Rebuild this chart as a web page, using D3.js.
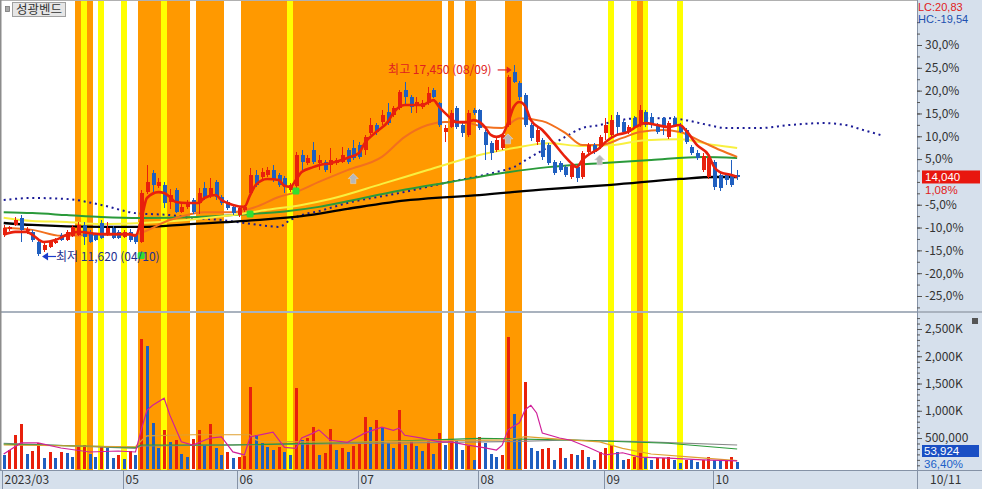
<!DOCTYPE html>
<html><head><meta charset="utf-8">
<script src="https://cdn.jsdelivr.net/npm/d3@7"></script>
<style>
html,body{margin:0;padding:0;background:#fff;overflow:hidden}
svg{display:block}
text{font-family:"Noto Sans CJK KR","Noto Sans",sans-serif}
.num{font-family:"Liberation Sans","Noto Sans",sans-serif}
</style></head><body>
<svg id="chart" width="982" height="489"></svg>
<script>
// ===== DATA =====
const stockName = "성광벤드";
const monthLabels = ["2023/03","05","06","07","08","09","10"];
const monthIdx = [0,21,41,62,83,105,124];
const lastDateLabel = "10/11";
const basePrice = 13890; // 0% reference of the right axis
const pctTicks = [30,25,20,15,10,5,-5,-10,-15,-20,-25];
const volTicks = [500000,1000000,1500000,2000000,2500000];

const open = [12280,12450,12580,12790,12400,12370,12060,11820,11910,12030,
12280,12120,12250,12280,12580,12370,12280,12640,12280,12490,
12370,12210,12370,12270,12060,13580,14160,13770,13800,13280,
13640,12970,13130,13340,13250,13700,13490,13890,13430,13280,
13130,12880,13040,13550,14100,14040,14100,14250,14100,14010,
13640,13760,14710,14470,14860,14470,14500,14400,14470,14500,
14860,14920,15010,14860,15380,15620,15710,16020,15930,16140,
16690,16470,16230,16170,16290,16690,16290,15410,15560,16140,
15620,15320,16080,16080,15410,15070,14860,14920,15620,17230,
16900,16530,15620,15100,15170,15010,14500,14470,14340,14040,
14340,14040,14800,15010,14950,15380,15320,15930,15710,15410,
15830,15620,16020,15870,15620,15830,15260,15830,15620,15470,
14950,14770,14250,14040,14500,14100,14100,14100,14100];
const high = [12580,12560,12820,12880,12520,12420,12100,12030,12120,12180,
12330,12420,12580,12670,12670,12430,12330,12730,12670,12550,
12420,12430,12460,12300,13640,14400,14250,14010,13890,13680,
13700,13220,13340,13400,13700,13890,14010,13950,13490,13340,
13190,13160,13190,14310,14250,14310,14340,14400,14160,14070,
13860,14800,14860,14700,15100,14710,14560,14920,14620,14950,
14920,15170,15100,15320,15830,15680,16080,16290,16200,16690,
16930,16540,16470,16380,16780,16750,16320,15620,16080,16200,
15680,16080,16140,16110,15470,15130,15230,15380,17140,17450,
16960,16600,15680,15530,15230,15070,14560,14530,14400,14470,
14400,14830,15070,15070,15320,15830,15930,16020,15770,15620,
15900,16230,16080,15990,15680,15870,15740,15900,15680,15530,
15010,14860,14770,14710,14560,14160,14160,14560,14250];
const low = [12210,12400,12540,12060,12300,12060,11620,11760,11880,11990,
12090,12090,12200,12250,11970,12030,12080,12150,12250,12150,
12150,12180,12060,12000,12030,13520,13580,13700,13100,13070,
12940,12940,13070,12910,12910,13340,13400,13340,13200,13040,
12880,12820,12970,13490,13740,13950,14040,13890,13740,13560,
13580,13700,14250,14400,14440,14250,14190,14160,14400,14470,
14440,14560,14590,14710,15320,15320,15620,15620,15870,16080,
16230,15990,15990,16110,16230,16440,15560,15100,15530,15500,
15260,15260,15930,15470,14560,14560,14800,14860,15560,16900,
16380,15560,15130,15010,14560,14400,14100,14190,14040,13980,
13890,13980,14740,14740,14890,15170,15260,15320,15350,15350,
15500,15560,15560,15530,15350,15320,15200,15560,15380,15040,
14710,14560,14190,13980,13650,13620,13800,13740,13950];
const close = [12490,12520,12730,12430,12450,12120,11700,11970,12060,12100,
12120,12370,12520,12580,12210,12060,12120,12180,12490,12180,
12180,12370,12120,12060,13550,13890,13800,13890,13250,13490,
12970,13130,13280,12970,13550,13430,13700,13430,13250,13100,
12940,13100,13130,14100,13800,14190,14250,13950,13800,13740,
13800,14710,14500,14620,14500,14560,14250,14560,14560,14710,
14500,14620,14650,15260,15620,15410,15930,15680,16140,16630,
16470,16170,16320,16290,16600,16470,15620,15530,15990,15560,
15380,15990,15990,15530,15010,14770,15170,15320,17080,16930,
16470,15620,15230,15470,14650,14470,14160,14250,14100,14400,
14010,14770,15010,14800,15260,15620,15770,15560,15410,15560,
15560,16080,15620,15620,15410,15560,15680,15620,15410,15100,
14770,14620,14680,14620,13740,13700,13950,13800,14040];
const volume = [190000,280000,560000,760000,210000,270000,410000,140000,250000,140000,
235000,220000,160000,340000,372000,200000,150000,340000,315000,130000,
180000,120000,268000,190000,2320000,2190000,780000,320000,650000,435000,
455000,210000,160000,485000,640000,375000,760000,315000,190000,235000,
130000,150000,170000,1440000,560000,410000,340000,285000,340000,250000,
190000,1410000,465000,500000,710000,190000,220000,660000,285000,315000,
235000,345000,405000,880000,710000,830000,680000,405000,315000,1020000,
375000,465000,357000,265000,450000,210000,590000,375000,480000,450000,
285000,345000,100000,510000,405000,210000,145000,190000,2360000,945000,
465000,1520000,325000,255000,300000,325000,100000,325000,130000,210000,
190000,285000,150000,100000,235000,315000,375000,235000,100000,110000,
145000,220000,130000,90000,130000,140000,160000,100000,40000,100000,
90000,60000,90000,160000,100000,90000,100000,148140,53924];

// price moving averages: [bar index, price]
const ma5 = [[0,12280],[2,12370],[4,12370],[5,12280],[7,12060],[9,12120],[11,12280],[13,12370],[17,12300],[22,12300],[23,12250],[24,12730],[25,13400],[27,13580],[28,13550],[29,13430],[30,13280],[32,13250],[34,13250],[35,13400],[37,13490],[38,13340],[40,13190],[42,13130],[43,13490],[44,13800],[46,13980],[48,13950],[49,13770],[50,13740],[51,13950],[52,14190],[54,14340],[55,14400],[57,14460],[60,14620],[62,14770],[63,15070],[65,15410],[67,15710],[68,15990],[70,16230],[71,16230],[73,16230],[75,16380],[76,16170],[77,15990],[78,15830],[79,15710],[81,15710],[82,15770],[84,15560],[85,15320],[86,15260],[87,15320],[88,15680],[89,16170],[90,16320],[91,16200],[92,15770],[94,15470],[96,15070],[98,14650],[99,14470],[100,14340],[101,14560],[102,14710],[104,14920],[105,15100],[107,15320],[109,15410],[110,15530],[112,15680],[114,15620],[116,15560],[118,15620],[119,15470],[121,15010],[123,14710],[124,14340],[125,14190],[127,14100],[128,14040]];
const ma20 = [[0,12490],[5,12430],[10,12250],[17,12280],[23,12280],[24,12340],[29,12730],[35,12970],[40,12970],[44,13130],[48,13430],[51,13580],[55,13890],[60,14250],[66,14650],[70,15260],[74,15620],[77,15710],[81,15680],[84,15560],[87,15530],[88,15620],[90,15830],[94,15740],[98,15380],[101,15010],[104,15010],[108,15230],[111,15410],[115,15470],[118,15410],[122,15100],[125,14860],[128,14650]];
const ma60 = [[0,12800],[5,12700],[11,12670],[17,12610],[24,12640],[32,12730],[40,12880],[46,13040],[52,13190],[57,13370],[66,13830],[74,14250],[83,14710],[89,14920],[95,15070],[101,14980],[106,15010],[112,15160],[118,15190],[124,15010],[128,14920]];
const ma120 = [[0,12970],[5,12940],[11,12880],[17,12820],[24,12790],[34,12820],[43,12910],[49,12990],[55,13130],[60,13300],[69,13620],[78,13890],[87,14160],[95,14340],[104,14460],[113,14560],[122,14650],[128,14620]];
const ma240 = [[0,12640],[5,12580],[17,12520],[24,12520],[32,12600],[44,12730],[52,12850],[60,13070],[71,13340],[83,13490],[95,13670],[106,13800],[118,13980],[124,14040],[128,14040]];
const leadSpan = [[0,13340],[5,13400],[11,13370],[17,13190],[23,12940],[29,12880],[33,12790],[38,12730],[42,12640],[46,12550],[48,12520],[50,12730],[52,12880],[55,13000],[60,13250],[69,13550],[77,13860],[86,14190],[89,14340],[92,14650],[95,14950],[98,15260],[101,15530],[104,15620],[106,15710],[111,15830],[116,15830],[119,15770],[123,15620],[126,15530],[132,15530],[137,15620],[143,15680],[147,15620],[150,15470],[153,15320]];

// volume moving averages: [bar index, volume]
const vma5 = [[0,207000],[3,410000],[6,410000],[10,317000],[15,244000],[20,262000],[23,244000],[24,650000],[25,1010000],[26,1100000],[28,1230000],[29,920000],[31,430000],[33,370000],[36,500000],[38,520000],[40,245000],[42,190000],[43,520000],[47,610000],[49,330000],[51,310000],[52,500000],[54,590000],[55,650000],[57,460000],[60,420000],[63,590000],[66,700000],[68,640000],[69,680000],[70,550000],[73,500000],[76,430000],[78,430000],[81,370000],[84,320000],[86,280000],[87,370000],[88,650000],[90,780000],[91,1020000],[92,1100000],[93,960000],[94,590000],[97,500000],[99,460000],[102,330000],[105,190000],[108,230000],[111,150000],[116,130000],[122,100000],[128,80000]];
const vma20 = [[0,372000],[23,340000],[24,450000],[25,540000],[33,560000],[43,560000],[44,470000],[45,440000],[52,430000],[64,430000],[88,465000],[91,525000],[95,495000],[104,430000],[108,310000],[113,207000],[119,158000],[128,85000]];
const vma60 = [[0,390000],[23,330000],[24,372000],[40,372000],[66,433000],[83,495000],[99,464000],[116,404000],[128,299000]];
const vma120 = [[0,404000],[23,312000],[24,354000],[66,404000],[87,433000],[99,464000],[111,433000],[128,372000]];

// signal bands: start bar, end bar, kind (o = orange, y = yellow), in drawing order
const bandStart = [13,14,17,21,24,28,34,42,50,78,81,88,106,110,111,118];
const bandEnd   = [15,14,17,21,32,28,38,76,50,78,82,90,106,112,111,118];
const bandKind  = ["o","y","y","y","o","y","o","o","y","o","o","o","y","y","o","y"];

// markers: [bar index, price]
const greenMarks = [[24,11650],[43,12910],[51,13610]];
const greyMarks = [[61,13990],[88,15200],[104,14560]];
const hiIdx = 89, loIdx = 6;
const hiLabel = "최고 17,450 (08/09)";
const loLabel = "최저 11,620 (04/10)";

// ===== DRAW =====
const svg = d3.select("#chart");
const W = 982, H = 489;
const PL = 1, PR = 917, PT = 1, PB = 311, VT = 313, VB = 470;
const step = 5.73;
const RED = "#e8200c", BLUE = "#1f5fc0";
const AXBG = "#d6e0ec", AXLINE = "#8592a6", TXT = "#333";

const x = d3.scaleLinear().domain([0, 159]).range([3.7, 3.7 + 159 * step]);
const yP = d3.scaleLinear().domain([basePrice * 0.75, basePrice * 1.30]).range([296, 45]);
const yV = d3.scaleLinear().domain([0, 2500000]).range([465.3, 329]);

svg.append("rect").attr("width", W).attr("height", H).attr("fill", "#fff");
const defs = svg.append("defs");
defs.append("clipPath").attr("id", "cP").append("rect").attr("x", PL).attr("y", PT).attr("width", PR - PL).attr("height", PB - PT);
defs.append("clipPath").attr("id", "cV").append("rect").attr("x", PL).attr("y", VT).attr("width", PR - PL).attr("height", VB - VT);
defs.append("clipPath").attr("id", "cA").append("rect").attr("x", PL).attr("y", PT).attr("width", PR - PL).attr("height", VB - PT);

// bands
const gB = svg.append("g").attr("clip-path", "url(#cA)").attr("shape-rendering", "crispEdges");
bandStart.forEach((s, k) => {
  gB.append("rect")
    .attr("x", x(s - 0.5)).attr("width", x(bandEnd[k] + 0.5) - x(s - 0.5))
    .attr("y", PT).attr("height", VB - PT)
    .attr("fill", bandKind[k] === "o" ? "#ff9900" : "#ffff00");
});

// price panel
const gP = svg.append("g").attr("clip-path", "url(#cP)");
const lineP = d3.line().x(d => x(d[0])).y(d => yP(d[1])).curve(d3.curveMonotoneX);
gP.append("path").attr("d", lineP(leadSpan)).attr("fill", "none").attr("stroke", "#1a1a96").attr("stroke-width", 2).attr("stroke-dasharray", "2,3.73");
gP.append("path").attr("d", lineP(ma240)).attr("fill", "none").attr("stroke", "#000").attr("stroke-width", 2.3);
gP.append("path").attr("d", lineP(ma120)).attr("fill", "none").attr("stroke", "#2a9a3a").attr("stroke-width", 2);
gP.append("path").attr("d", lineP(ma60)).attr("fill", "none").attr("stroke", "#f8f040").attr("stroke-width", 2);
gP.append("path").attr("d", lineP(ma20)).attr("fill", "none").attr("stroke", "#f2701e").attr("stroke-width", 2);

const gC = gP.append("g").attr("shape-rendering", "crispEdges");
close.forEach((c, i) => {
  const o = open[i];
  const col = c > o ? RED : BLUE;
  const cx = Math.round(x(i));
  gC.append("rect").attr("x", cx).attr("width", 1)
    .attr("y", yP(high[i])).attr("height", Math.max(1, yP(low[i]) - yP(high[i]))).attr("fill", col);
  const top = yP(Math.max(o, c)), bot = yP(Math.min(o, c));
  gC.append("rect").attr("x", cx - 1.5).attr("width", 4)
    .attr("y", top).attr("height", Math.max(1, bot - top)).attr("fill", col);
});
gP.append("path").attr("d", lineP(ma5)).attr("fill", "none").attr("stroke", "#e8200c").attr("stroke-width", 2.6);

// markers
greenMarks.forEach(d => {
  gP.append("rect").attr("x", x(d[0]) - 3.5).attr("y", yP(d[1]) - 3.5).attr("width", 7).attr("height", 7).attr("rx", 1.5).attr("fill", "#30e030");
});
greyMarks.forEach(d => {
  const cx = x(d[0]), cy = yP(d[1]);
  gP.append("path").attr("transform", `translate(${cx},${cy})`)
    .attr("d", "M0,-5 L5,0 L2.6,0 L2.6,5 L-2.6,5 L-2.6,0 L-5,0 Z")
    .attr("fill", "#b8b8b8").attr("stroke", "#d8d8d8").attr("stroke-width", 0.6);
});

// annotations
{
  const hx = x(hiIdx), hy = yP(high[hiIdx]) + 5;
  gP.append("line").attr("x1", hx - 16).attr("x2", hx - 4).attr("y1", hy).attr("y2", hy).attr("stroke", "#e02020").attr("stroke-width", 1.2);
  gP.append("path").attr("d", `M${hx - 2},${hy} L${hx - 7},${hy - 3.5} L${hx - 7},${hy + 3.5} Z`).attr("fill", "#e02020");
  gP.append("text").attr("x", hx - 22).attr("y", hy + 4.5).attr("text-anchor", "end").attr("font-size", 12).attr("fill", "#e02020").text(hiLabel);
  const lx = x(loIdx) + 4, ly = yP(low[loIdx]);
  gP.append("path").attr("d", `M${lx},${ly} L${lx + 6},${ly - 4} L${lx + 6},${ly + 4} Z`).attr("fill", "#1a3ccc");
  gP.append("line").attr("x1", lx + 5).attr("x2", lx + 14).attr("y1", ly).attr("y2", ly).attr("stroke", "#1a3ccc").attr("stroke-width", 1.2);
  gP.append("text").attr("x", lx + 14).attr("y", ly + 4.5).attr("font-size", 12).attr("fill", "#1f2f8f").text(loLabel);
}

// volume panel
const gV = svg.append("g").attr("clip-path", "url(#cV)");
const gVb = gV.append("g").attr("shape-rendering", "crispEdges");
volume.forEach((v, i) => {
  const col = i > 0 && v > volume[i - 1] ? RED : BLUE;
  const cx = Math.round(x(i));
  gVb.append("rect").attr("x", cx - 1).attr("width", 3).attr("y", yV(v)).attr("height", VB - 1 - yV(v)).attr("fill", col);
});
const lineV = d3.line().x(d => x(d[0])).y(d => yV(d[1]));
gV.append("path").attr("d", lineV(vma120)).attr("fill", "none").attr("stroke", "#888").attr("stroke-width", 1.2);
gV.append("path").attr("d", lineV(vma60)).attr("fill", "none").attr("stroke", "#2a9a3a").attr("stroke-width", 1.2);
gV.append("path").attr("d", lineV(vma20)).attr("fill", "none").attr("stroke", "#e0a030").attr("stroke-width", 1.2);
gV.append("path").attr("d", lineV(vma5)).attr("fill", "none").attr("stroke", "#d0209a").attr("stroke-width", 1.2);

// frame and axis areas
svg.append("rect").attr("x", PR).attr("y", 0).attr("width", W - PR).attr("height", H).attr("fill", AXBG);
svg.append("rect").attr("x", 0).attr("y", VB).attr("width", W).attr("height", H - VB).attr("fill", AXBG);
svg.append("rect").attr("x", 0).attr("y", PB).attr("width", W).attr("height", 2).attr("fill", "#a9b2be");
svg.append("line").attr("x1", 0).attr("x2", W).attr("y1", VB + 0.5).attr("y2", VB + 0.5).attr("stroke", AXLINE);
svg.append("line").attr("x1", PR + 0.5).attr("x2", PR + 0.5).attr("y1", 0).attr("y2", H).attr("stroke", AXLINE);
svg.append("line").attr("x1", 0).attr("x2", PR).attr("y1", 0.5).attr("y2", 0.5).attr("stroke", "#b0b0b0");
svg.append("rect").attr("x", 0).attr("y", 0).attr("width", 1.5).attr("height", VB).attr("fill", "#8c8c8c");

const fmtPct = p => { const r = Math.round(p * 10) / 10; return (r < 0 ? "-" : "") + Math.abs(r).toFixed(1).replace(".", ",") + "%"; };
const styleAxis = g => {
  g.select(".domain").remove();
  g.attr("font-size", 12).attr("font-family", "'Noto Sans CJK KR','Noto Sans',sans-serif");
  g.selectAll("line").attr("stroke", "#555");
  g.selectAll("text").attr("fill", TXT);
};
// percent axis (minor + major)
const minorP = d3.range(-30, 37.5, 2.5).map(p => basePrice * (1 + p / 100)).filter(v => yP(v) > 4 && yP(v) < PB - 2);
svg.append("g").attr("transform", `translate(${PR},0)`)
  .call(d3.axisRight(yP).tickValues(minorP).tickSize(3).tickFormat(""))
  .call(styleAxis);
svg.append("g").attr("transform", `translate(${PR},0)`)
  .call(d3.axisRight(yP).tickValues(pctTicks.map(p => basePrice * (1 + p / 100))).tickSize(5).tickPadding(3)
    .tickFormat(v => fmtPct((v / basePrice - 1) * 100)))
  .call(styleAxis);
// volume axis
const minorV = d3.range(0, 2900000, 100000).filter(v => yV(v) > VT + 3 && yV(v) < VB - 1);
svg.append("g").attr("transform", `translate(${PR},0)`)
  .call(d3.axisRight(yV).tickValues(minorV).tickSize(3).tickFormat(""))
  .call(styleAxis);
svg.append("g").attr("transform", `translate(${PR},0)`)
  .call(d3.axisRight(yV).tickValues(volTicks).tickSize(5).tickPadding(3)
    .tickFormat(v => v < 1000000 ? d3.format(",")(v) : d3.format(",")(v / 1000) + "K"))
  .call(styleAxis);

// right-side info boxes
const last = close.length - 1;
const lc = (close[last] / d3.min(low) - 1) * 100;
const hc = (close[last] / d3.max(high) - 1) * 100;
svg.append("text").attr("class", "num").attr("x", 918).attr("y", 10.5).attr("font-size", 11).attr("fill", "#e02020").text("LC:" + lc.toFixed(2).replace(".", ","));
svg.append("text").attr("class", "num").attr("x", 918).attr("y", 23).attr("font-size", 11).attr("fill", "#2050b0").text("HC:" + (hc < 0 ? "-" : "") + Math.abs(hc).toFixed(2).replace(".", ","));
const ly0 = yP(close[last]);
svg.append("rect").attr("x", 922).attr("y", ly0 - 6.5).attr("width", 58).attr("height", 13).attr("fill", "#e8170f");
svg.append("text").attr("class", "num").attr("x", 925).attr("y", ly0 + 4).attr("font-size", 11.5).attr("fill", "#fff").text(d3.format(",")(close[last]));
svg.append("text").attr("class", "num").attr("x", 925).attr("y", ly0 + 17.5).attr("font-size", 11.5).attr("fill", "#e02020")
  .text(((close[last] / basePrice - 1) * 100).toFixed(2).replace(".", ",") + "%");
svg.append("rect").attr("x", 922).attr("y", 445).attr("width", 57).attr("height", 12).attr("fill", "#1a4fc4");
svg.append("text").attr("class", "num").attr("x", 924).attr("y", 455).attr("font-size", 11.5).attr("fill", "#fff").text(d3.format(",")(volume[last]));
svg.append("text").attr("class", "num").attr("x", 924).attr("y", 468).attr("font-size", 11.5).attr("fill", "#2060c8")
  .text((volume[last] / volume[last - 1] * 100).toFixed(2).replace(".", ",") + "%");
svg.append("rect").attr("x", 972).attr("y", 318).attr("width", 6).attr("height", 6).attr("fill", "#555");

// x axis labels
monthIdx.forEach((mi, k) => {
  const sx = Math.round(x(mi - 0.25)) + 0.5;
  svg.append("line").attr("x1", sx).attr("x2", sx).attr("y1", VB).attr("y2", H).attr("stroke", AXLINE);
  svg.append("text").attr("x", sx + 2).attr("y", 484).attr("font-size", 12).attr("fill", TXT).text(monthLabels[k]);
});
svg.append("text").attr("x", 930).attr("y", 484).attr("font-size", 12).attr("fill", TXT).text(lastDateLabel);

// legend
svg.append("rect").attr("x", 5.5).attr("y", 6.5).attr("width", 4).attr("height", 5).attr("fill", "#aaa").attr("stroke", "#777").attr("stroke-width", 0.8);
svg.append("rect").attr("x", 12.5).attr("y", 2.5).attr("width", 53).attr("height", 14).attr("fill", "#e6e6e6").attr("stroke", "#a0a0a0");
svg.append("text").attr("x", 16).attr("y", 14).attr("font-size", 12.5).attr("fill", "#333").text(stockName);
</script></body></html>
